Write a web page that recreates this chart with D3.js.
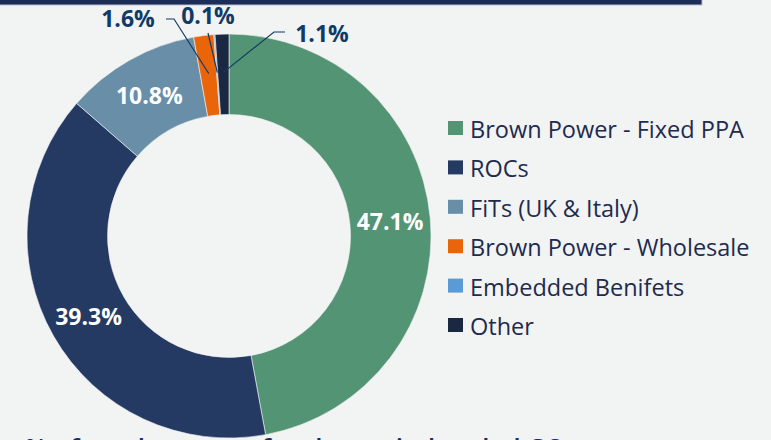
<!DOCTYPE html>
<html>
<head>
<meta charset="utf-8">
<script src="https://cdn.jsdelivr.net/npm/d3@7"></script>
<style>
	body { margin: 0; background: #f2f3f3; }
	svg { display: block; font-family: "Open Sans", sans-serif; }
</style>
</head>
<body>
<svg width="771" height="440"></svg>
<script>
// revenue split, % of total
const categories = ["Brown Power - Fixed PPA", "ROCs", "FiTs (UK & Italy)", "Brown Power - Wholesale", "Embedded Benifets", "Other"];
const values = [47.1, 39.3, 10.8, 1.6, 0.1, 1.1];
const colors = ["#539474", "#243a63", "#698ea8", "#ea6509", "#5b9bd5", "#1b2842"];

let svg = d3.select("svg"),
	width = +svg.attr("width"),
	height = +svg.attr("height");

svg.append("rect").attr("width", width).attr("height", height).attr("fill", "#f2f3f3");

// title banner, mostly cropped off the top
svg.append("rect")
	.attr("x", -2).attr("y", -40).attr("width", 704).attr("height", 45)
	.attr("fill", "#1c2d57").attr("stroke", "#b9c1d6").attr("stroke-width", 1);

const cx = 229, cy = 236, outerR = 202, innerR = 121.5;

let pie = d3.pie().sort(null).value(d => d);
let arcs = pie(values);
let arc = d3.arc().innerRadius(innerR).outerRadius(outerR);
let mid = d3.arc().innerRadius((innerR + outerR) / 2).outerRadius((innerR + outerR) / 2);

let g = svg.append("g").attr("transform", `translate(${cx},${cy})`);

g.selectAll("path")
	.data(arcs)
	.enter().append("path")
	.attr("d", arc)
	.attr("fill", (d, i) => colors[i])
	.attr("stroke", "#f2f3f3")
	.attr("stroke-width", 0.6);

// big slices get labels inside the ring
const inside = [0, 1, 2];
g.selectAll("text.inside")
	.data(inside)
	.enter().append("text")
	.attr("class", "inside")
	.attr("x", i => mid.centroid(arcs[i])[0])
	.attr("y", i => mid.centroid(arcs[i])[1])
	.attr("text-anchor", "middle")
	.attr("dominant-baseline", "central")
	.attr("fill", "#ffffff")
	.attr("font-weight", 700)
	.attr("font-size", 23)
	.text(i => values[i].toFixed(1) + "%");

// small slices: labels outside with leader lines
const outside = [
	{ i: 3, lx: 128, ly: 18, path: [[166, 19], [174, 19]] },
	{ i: 4, lx: 208, ly: 15, path: [[208, 33]] },
	{ i: 5, lx: 322, ly: 33, path: [[285, 32], [274, 32]] }
];
outside.forEach(o => {
	let c = mid.centroid(arcs[o.i]);
	let pts = o.path.map(p => [p[0] - cx, p[1] - cy]).concat([[c[0], c[1] - 2]]);
	g.append("path")
		.attr("d", d3.line()(pts))
		.attr("fill", "none")
		.attr("stroke", "#0f3b66")
		.attr("stroke-width", 1.2);
	svg.append("text")
		.attr("x", o.lx).attr("y", o.ly)
		.attr("text-anchor", "middle")
		.attr("dominant-baseline", "central")
		.attr("fill", "#0f3b66")
		.attr("font-weight", 700)
		.attr("font-size", 23)
		.text(values[o.i].toFixed(1) + "%");
});

// legend
let legend = svg.append("g").attr("transform", "translate(448,128)");
let item = legend.selectAll("g")
	.data(categories)
	.enter().append("g")
	.attr("transform", (d, i) => `translate(0,${i * 39.4})`);
item.append("rect")
	.attr("x", 0).attr("y", -7).attr("width", 15).attr("height", 14)
	.attr("fill", (d, i) => colors[i]);
item.append("text")
	.attr("x", 22).attr("y", 1)
	.attr("dominant-baseline", "central")
	.attr("fill", "#1e2b4d")
	.attr("font-size", 23.5)
	.text(d => d);

// footnote, cut off at the bottom
svg.append("text")
	.attr("x", 25).attr("y", 457)
	.attr("fill", "#1c2d57")
	.attr("font-weight", 600)
	.attr("font-size", 26)
	.text("% of total revenue for the period ended Q2");
</script>
</body>
</html>
